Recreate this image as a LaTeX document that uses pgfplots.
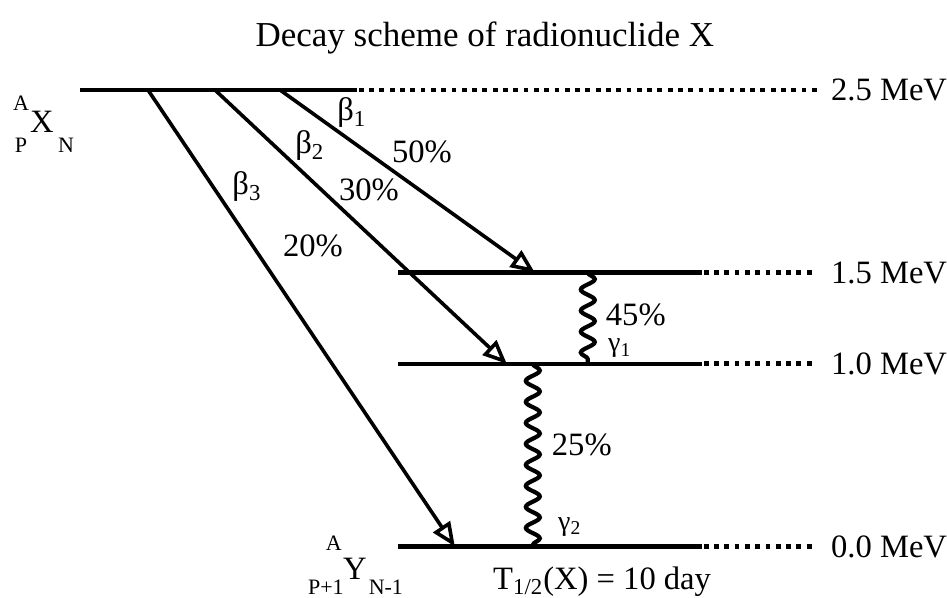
\documentclass[border=0pt]{standalone}
\usepackage{fontspec}
\setmainfont{Liberation Serif}
\usepackage{pgfplots}
\pgfplotsset{compat=1.18}
\usetikzlibrary{arrows.meta,decorations.pathmorphing}
\newcommand{\lbig}{\fontsize{16.3}{19}\selectfont}
\newcommand{\lsml}{\fontsize{11}{13}\selectfont}
\begin{document}
\begin{tikzpicture}[every node/.style={inner sep=0pt}]
\begin{axis}[scale only axis, width=473.5pt, height=299pt,
  xmin=0, xmax=947, ymin=-0.2808, ymax=2.9923, hide axis, clip=false]
\path (axis cs:0,-0.2808) rectangle (axis cs:947,2.9923);
% energy levels (MeV)
\addplot[line width=2.4pt] coordinates {(80,2.5) (357,2.5)};
\addplot[line width=2.2pt] coordinates {(398,1.5) (702,1.5)};
\addplot[line width=2.2pt] coordinates {(398,1.0) (702,1.0)};
\addplot[line width=2.2pt] coordinates {(398,0.0) (702,0.0)};
% dotted extensions
\addplot[line width=2.4pt, dash pattern=on 2.4pt off 2.75pt] coordinates {(359,2.5) (817,2.5)};
\addplot[line width=2.4pt, dash pattern=on 2.4pt off 2.75pt] coordinates {(704,1.5) (817,1.5)};
\addplot[line width=2.4pt, dash pattern=on 2.4pt off 2.75pt] coordinates {(704,1.0) (817,1.0)};
\addplot[line width=2.4pt, dash pattern=on 2.4pt off 2.75pt] coordinates {(704,0.0) (817,0.0)};
% beta transitions
\addplot[line width=1.8pt, -{Triangle[open, length=12pt, width=10pt, line width=1.8pt]}] coordinates {(280,2.5) (535,1.5)};
\addplot[line width=1.8pt, -{Triangle[open, length=12pt, width=10pt, line width=1.8pt]}] coordinates {(215,2.5) (507,1.0)};
\addplot[line width=1.8pt, -{Triangle[open, length=12pt, width=10pt, line width=1.8pt]}] coordinates {(148,2.5) (455,0.0)};
% gamma transitions
\addplot[line width=2.1pt, decorate, decoration={snake, amplitude=3.5pt, segment length=10.5pt}] coordinates {(588,1.5) (588,1.0)};
\addplot[line width=2.1pt, decorate, decoration={snake, amplitude=3.5pt, segment length=10.5pt}] coordinates {(533,1.0) (533,0.0)};
% labels
\node[font=\fontsize{17.5}{20}\selectfont] at (axis cs:485,2.784) {Decay scheme of radionuclide X};
\node[font=\lbig, anchor=west] at (axis cs:831,2.5) {2.5 MeV};
\node[font=\lbig, anchor=west] at (axis cs:831,1.5) {1.5 MeV};
\node[font=\lbig, anchor=west] at (axis cs:831,1.0) {1.0 MeV};
\node[font=\lbig, anchor=west] at (axis cs:831,0.0) {0.0 MeV};
\node[font=\lbig] at (axis cs:352,2.374) {β\textsubscript{1}};
\node[font=\lbig] at (axis cs:422,2.160) {50\%};
\node[font=\lbig] at (axis cs:310,2.193) {β\textsubscript{2}};
\node[font=\lbig] at (axis cs:369,1.952) {30\%};
\node[font=\lbig] at (axis cs:247,1.969) {β\textsubscript{3}};
\node[font=\lbig] at (axis cs:313,1.646) {20\%};
\node[font=\lbig] at (axis cs:636,1.270) {45\%};
\node[font=\fontsize{14}{16}\selectfont] at (axis cs:620,1.085) {γ\textsubscript{1}};
\node[font=\lbig] at (axis cs:582,0.557) {25\%};
\node[font=\fontsize{14}{16}\selectfont] at (axis cs:570,0.108) {γ\textsubscript{2}};
\node[font=\lbig, anchor=west] at (axis cs:493,-0.193) {T\textsubscript{1/2}(X) = 10 day};
% nuclide X
\node[font=\lsml] at (axis cs:21,2.428) {A};
\node[font=\lbig] at (axis cs:42,2.325) {X};
\node[font=\lsml] at (axis cs:21,2.195) {P};
\node[font=\lsml] at (axis cs:66,2.195) {N};
% nuclide Y
\node[font=\lsml] at (axis cs:334,0.020) {A};
\node[font=\lbig] at (axis cs:355,-0.122) {Y};
\node[font=\lsml] at (axis cs:326,-0.221) {P+1};
\node[font=\lsml] at (axis cs:386,-0.221) {N-1};
\end{axis}
\end{tikzpicture}
\end{document}
